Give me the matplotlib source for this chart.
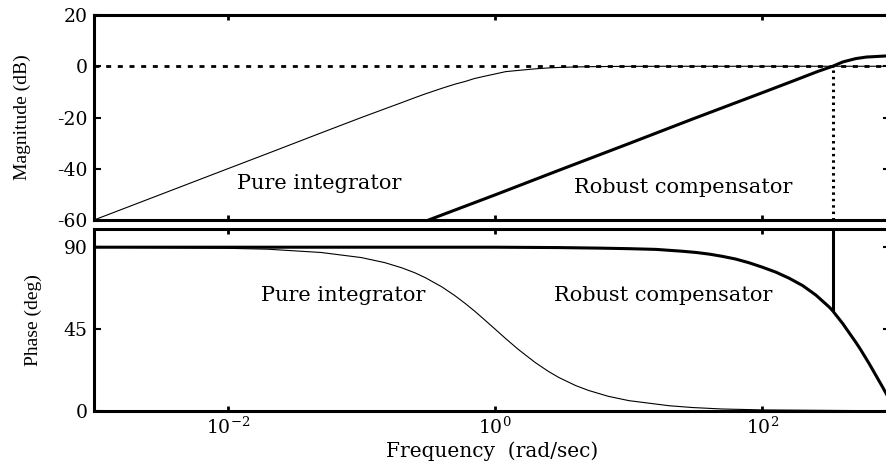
import matplotlib.pyplot as plt
from matplotlib.ticker import FixedLocator, NullLocator, LogFormatterMathtext, NullFormatter

plt.rcParams['font.family'] = 'DejaVu Serif'
plt.rcParams['mathtext.fontset'] = 'dejavuserif'
plt.rcParams['axes.unicode_minus'] = False

# pure integrator (thin curve)
pi_freq = [0.001, 0.01, 0.02, 0.05, 0.1, 0.15, 0.2, 0.25, 0.3, 0.4, 0.5, 0.6, 0.7, 0.8, 1, 1.2, 1.5, 2, 2.5, 3, 4, 5, 7, 10, 20, 30, 50, 100, 900]
pi_mag = [-60, -40, -34, -26, -20, -16.6, -14.2, -12.3, -10.8, -8.6, -7.0, -5.9, -4.8, -4.1, -3.0, -2.1, -1.6, -1.0, -0.65, -0.46, -0.26, -0.17, -0.09, -0.04, 0, 0, 0, 0, 0]
pi_phase = [90, 89.4, 88.9, 87.1, 84.3, 81.5, 78.7, 76.0, 73.3, 68.2, 63.4, 59.0, 55.0, 51.3, 45.0, 39.8, 33.7, 26.6, 21.8, 18.4, 14.0, 11.3, 8.1, 5.7, 2.9, 1.9, 1.1, 0.6, 0.1]

# robust compensator (thick curve)
rc_mag_freq = [0.3, 1, 3, 10, 30, 100, 150, 200, 260, 335, 400, 500, 600, 900]
rc_mag = [-60.5, -50.2, -40.6, -30.2, -20.6, -10.3, -6.8, -4.3, -2.0, 0.0, 1.7, 3.0, 3.6, 4.1]
rc_phase_freq = [0.001, 1, 3, 6, 10, 16, 25, 32, 40, 50, 63, 79, 100, 126, 158, 200, 251, 316, 335, 398, 501, 545, 631, 794, 870, 960]
rc_phase = [90, 90, 89.8, 89.5, 89.2, 88.8, 87.8, 87.1, 86.2, 85.0, 83.5, 81.5, 79.0, 76.3, 73.0, 68.9, 63.7, 57.1, 55.1, 48.1, 37.6, 33.5, 25.8, 13.0, 7.7, 1.0]

crossover_freq = 335
phase_at_crossover = 55.1

mag_ticks = [20, 0, -20, -40, -60]
phase_ticks = [0, 45, 90]
freq_ticks = [1e-2, 1e0, 1e2]

label_pi = 'Pure integrator'
label_rc = 'Robust compensator'

fig = plt.figure(figsize=(8.87, 4.62), dpi=100)
ax1 = fig.add_axes([0.106, 0.5238, 0.8974, 0.4437])
ax2 = fig.add_axes([0.106, 0.1104, 0.8974, 0.3939])

# magnitude
ax1.semilogx(pi_freq, pi_mag, color='black', lw=0.8)
ax1.semilogx(rc_mag_freq, rc_mag, color='black', lw=2.2)
ax1.axhline(0, color='black', lw=2, linestyle=(0, (1.8, 2.4)))
ax1.vlines(crossover_freq, min(mag_ticks), 0, color='black', lw=2.2, linestyle=(0, (0.8, 1.3)))
ax1.set_ylim(min(mag_ticks), max(mag_ticks))
ax1.set_yticks(mag_ticks)
ax1.set_ylabel('Magnitude (dB)', family='Liberation Serif', fontsize=14)
ax1.yaxis.set_label_coords(-0.079, 0.5)
ax1.text(0.048, -47.9, label_pi, ha='center', va='baseline', fontsize=15)
ax1.text(25.5, -49.5, label_rc, ha='center', va='baseline', fontsize=15)

# phase
ax2.semilogx(pi_freq, pi_phase, color='black', lw=0.8)
ax2.semilogx(rc_phase_freq, rc_phase, color='black', lw=2.2)
ax2.vlines(crossover_freq, phase_at_crossover, 100, color='black', lw=2.2)
ax2.set_ylim(0, 100)
ax2.set_yticks(phase_ticks)
ax2.set_ylabel('Phase (deg)', family='Liberation Serif', fontsize=14)
ax2.yaxis.set_label_coords(-0.065, 0.5)
ax2.set_xlabel('Frequency  (rad/sec)', fontsize=14.5, labelpad=2)
ax2.text(0.073, 60.5, label_pi, ha='center', va='baseline', fontsize=15)
ax2.text(18.0, 60.5, label_rc, ha='center', va='baseline', fontsize=15)

for ax in (ax1, ax2):
    ax.set_xlim(1e-3, 900)
    ax.xaxis.set_major_locator(FixedLocator(freq_ticks))
    ax.xaxis.set_minor_locator(NullLocator())
    ax.xaxis.set_major_formatter(LogFormatterMathtext())
    for s in ax.spines.values():
        s.set_linewidth(2.2)
    ax.tick_params(axis='x', which='major', direction='in', length=3.5, width=2,
                   top=True, bottom=True, pad=4.3, labelsize=13.5)
    ax.tick_params(axis='y', which='major', direction='in', length=5, width=1.5,
                   left=True, right=True, pad=4.7, labelsize=13.5)

ax1.xaxis.set_major_formatter(NullFormatter())

fig.savefig('out.png', dpi=100)
